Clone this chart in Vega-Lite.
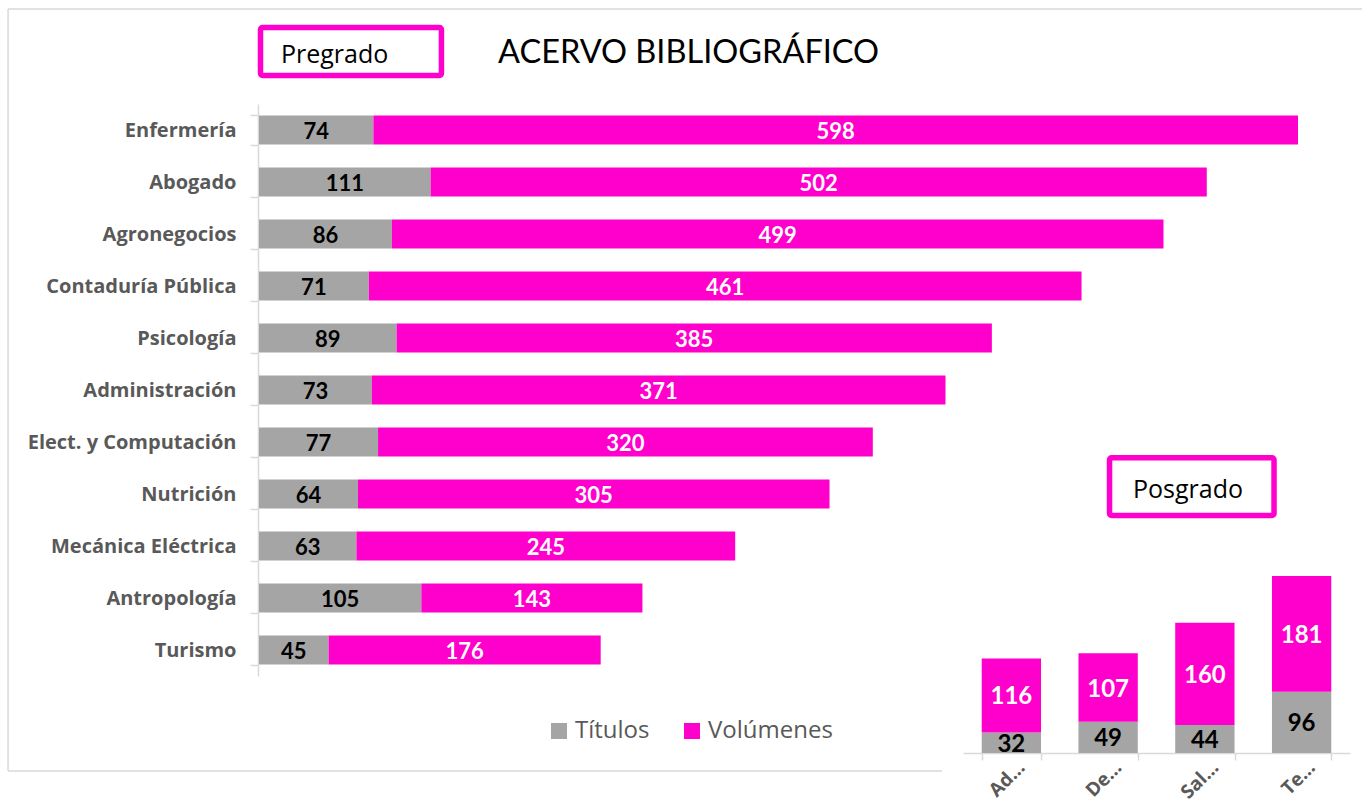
{
  "$schema": "https://vega.github.io/schema/vega-lite/v6.json",
  "width": 1362,
  "height": 804,
  "autosize": "none",
  "padding": 0,
  "background": "#ffffff",
  "config": {
    "view": {"stroke": null},
    "font": "Lato"
  },
  "datasets": {
    "pregrado": [
      {"carrera": "Enfermería", "tipo": "Títulos", "valor": 74},
      {"carrera": "Enfermería", "tipo": "Volúmenes", "valor": 598},
      {"carrera": "Abogado", "tipo": "Títulos", "valor": 111},
      {"carrera": "Abogado", "tipo": "Volúmenes", "valor": 502},
      {"carrera": "Agronegocios", "tipo": "Títulos", "valor": 86},
      {"carrera": "Agronegocios", "tipo": "Volúmenes", "valor": 499},
      {"carrera": "Contaduría Pública", "tipo": "Títulos", "valor": 71},
      {"carrera": "Contaduría Pública", "tipo": "Volúmenes", "valor": 461},
      {"carrera": "Psicología", "tipo": "Títulos", "valor": 89},
      {"carrera": "Psicología", "tipo": "Volúmenes", "valor": 385},
      {"carrera": "Administración", "tipo": "Títulos", "valor": 73},
      {"carrera": "Administración", "tipo": "Volúmenes", "valor": 371},
      {"carrera": "Elect. y Computación", "tipo": "Títulos", "valor": 77},
      {"carrera": "Elect. y Computación", "tipo": "Volúmenes", "valor": 320},
      {"carrera": "Nutrición", "tipo": "Títulos", "valor": 64},
      {"carrera": "Nutrición", "tipo": "Volúmenes", "valor": 305},
      {"carrera": "Mecánica Eléctrica", "tipo": "Títulos", "valor": 63},
      {"carrera": "Mecánica Eléctrica", "tipo": "Volúmenes", "valor": 245},
      {"carrera": "Antropología", "tipo": "Títulos", "valor": 105},
      {"carrera": "Antropología", "tipo": "Volúmenes", "valor": 143},
      {"carrera": "Turismo", "tipo": "Títulos", "valor": 45},
      {"carrera": "Turismo", "tipo": "Volúmenes", "valor": 176}
    ],
    "posgrado": [
      {"programa": "Ad…", "tipo": "Títulos", "valor": 32},
      {"programa": "Ad…", "tipo": "Volúmenes", "valor": 116},
      {"programa": "De…", "tipo": "Títulos", "valor": 49},
      {"programa": "De…", "tipo": "Volúmenes", "valor": 107},
      {"programa": "Sal…", "tipo": "Títulos", "valor": 44},
      {"programa": "Sal…", "tipo": "Volúmenes", "valor": 160},
      {"programa": "Te…", "tipo": "Títulos", "valor": 96},
      {"programa": "Te…", "tipo": "Volúmenes", "valor": 181}
    ],
    "marco": [
      {"x0": -162.3, "x1": 718.6, "y0": 1164.3, "y1": 1164.3},
      {"x0": -162.3, "x1": -162.3, "y0": 1164.3, "y1": -28.2},
      {"x0": -162.3, "x1": 441.7, "y0": -28.2, "y1": -28.2}
    ],
    "cajas": [
      {"nombre": "Pregrado", "x0": 0.97, "x1": 118.0, "y0": 1060.3, "y1": 1135.4, "tx": 14.2, "ty": 1080.6},
      {"nombre": "Posgrado", "x0": 550.1, "x1": 656.5, "y0": 371.7, "y1": 462.0, "tx": 565.3, "ty": 398.6}
    ],
    "titulo": [
      {"texto": "ACERVO BIBLIOGRÁFICO", "tx": 154.6, "ty": 1079.4}
    ]
  },
  "layer": [
    {
      "layer": [
        {
          "data": {"name": "marco"},
          "mark": {"type": "rule", "stroke": "#d9d9d9", "strokeWidth": 1.5},
          "encoding": {
            "x": {"field": "x0", "type": "quantitative", "scale": {"domain": [0, 672], "range": [259, 1298]}, "axis": null},
            "x2": {"field": "x1"},
            "y": {"field": "y0", "type": "quantitative", "scale": {"domain": [0, 277], "range": [753, 576]}, "axis": null},
            "y2": {"field": "y1"}
          }
        },
        {
          "data": {"name": "cajas"},
          "mark": {"type": "rect", "fill": "#ffffff", "stroke": "#ff00cc", "strokeWidth": 5.5, "cornerRadius": 2},
          "encoding": {
            "x": {"field": "x0", "type": "quantitative", "scale": {"domain": [0, 672], "range": [259, 1298]}, "axis": null},
            "x2": {"field": "x1"},
            "y": {"field": "y0", "type": "quantitative", "scale": {"domain": [0, 277], "range": [753, 576]}, "axis": null},
            "y2": {"field": "y1"}
          }
        },
        {
          "data": {"name": "cajas"},
          "mark": {"type": "text", "align": "left", "baseline": "alphabetic", "fontSize": 25, "font": "Open Sans", "color": "#000000"},
          "encoding": {
            "x": {"field": "tx", "type": "quantitative", "scale": {"domain": [0, 672], "range": [259, 1298]}, "axis": null},
            "y": {"field": "ty", "type": "quantitative", "scale": {"domain": [0, 277], "range": [753, 576]}, "axis": null},
            "text": {"field": "nombre"}
          }
        },
        {
          "data": {"name": "titulo"},
          "mark": {"type": "text", "align": "left", "baseline": "alphabetic", "fontSize": 32.5, "font": "Lato", "color": "#000000"},
          "encoding": {
            "x": {"field": "tx", "type": "quantitative", "scale": {"domain": [0, 672], "range": [259, 1298]}, "axis": null},
            "y": {"field": "ty", "type": "quantitative", "scale": {"domain": [0, 277], "range": [753, 576]}, "axis": null},
            "text": {"field": "texto"}
          }
        }
      ]
    },
    {
      "data": {"name": "pregrado"},
      "encoding": {
        "y": {
          "field": "carrera", "type": "nominal", "sort": null,
          "scale": {"range": [104, 676], "paddingInner": 0.44, "paddingOuter": 0.22},
          "axis": {
            "orient": "left", "offset": -258, "title": null,
            "domainColor": "#d9d9d9", "domainWidth": 1.5,
            "tickColor": "#d9d9d9", "tickWidth": 1.5, "tickSize": 8, "tickBand": "extent",
            "labelFont": "Open Sans", "labelFontSize": 20, "labelFontWeight": "bold", "labelColor": "#595959",
            "labelPadding": 14, "labelLimit": 300, "grid": false
          }
        },
        "x": {
          "field": "valor", "type": "quantitative", "stack": "zero",
          "scale": {"domain": [0, 672], "range": [259, 1298]}, "axis": null
        },
        "order": {"field": "tipo", "sort": "ascending"}
      },
      "layer": [
        {
          "mark": {"type": "bar"},
          "encoding": {
            "color": {
              "field": "tipo", "type": "nominal",
              "scale": {"domain": ["Títulos", "Volúmenes"], "range": ["#a5a5a5", "#ff00cc"]},
              "legend": {
                "orient": "none", "legendX": 547, "legendY": 719, "direction": "horizontal",
                "title": null, "symbolType": "square", "symbolSize": 256, "symbolStrokeWidth": 0,
                "labelFont": "Open Sans", "labelFontSize": 24, "labelColor": "#595959",
                "columnPadding": 30, "labelOffset": 4, "padding": 0
              }
            }
          }
        },
        {
          "mark": {"type": "text", "fontSize": 22, "fontWeight": "bold", "font": "Lato", "baseline": "middle", "align": "center", "dy": 2},
          "encoding": {
            "x": {"field": "valor", "type": "quantitative", "stack": "zero", "bandPosition": 0.5},
            "detail": {"field": "tipo"},
            "text": {"field": "valor", "type": "quantitative"},
            "color": {"condition": {"test": "datum.tipo === 'Títulos'", "value": "#000000"}, "value": "#ffffff"}
          }
        }
      ]
    },
    {
      "data": {"name": "posgrado"},
      "encoding": {
        "x": {
          "field": "programa", "type": "nominal", "sort": null,
          "scale": {"range": [963, 1350], "paddingInner": 0.387, "paddingOuter": 0.1935},
          "axis": {
            "orient": "bottom", "offset": -51, "title": null,
            "domainColor": "#d9d9d9", "domainWidth": 1.5,
            "tickColor": "#d9d9d9", "tickWidth": 1.5, "tickSize": 7, "tickBand": "extent",
            "labelFont": "Open Sans", "labelFontSize": 19, "labelFontWeight": "bold", "labelColor": "#595959",
            "labelAngle": -45, "labelAlign": "right", "labelBaseline": "middle", "labelPadding": 4, "labelOffset": 10, "grid": false
          }
        },
        "y": {
          "field": "valor", "type": "quantitative", "stack": "zero",
          "scale": {"domain": [0, 277], "range": [753, 576]}, "axis": null
        },
        "order": {"field": "tipo", "sort": "ascending"}
      },
      "layer": [
        {
          "mark": {"type": "bar"},
          "encoding": {
            "color": {
              "field": "tipo", "type": "nominal",
              "scale": {"domain": ["Títulos", "Volúmenes"], "range": ["#a5a5a5", "#ff00cc"]}
            }
          }
        },
        {
          "mark": {"type": "text", "fontSize": 24, "fontWeight": "bold", "font": "Lato", "baseline": "middle", "align": "center", "dy": 2},
          "encoding": {
            "y": {"field": "valor", "type": "quantitative", "stack": "zero", "bandPosition": 0.5},
            "detail": {"field": "tipo"},
            "text": {"field": "valor", "type": "quantitative"},
            "color": {"condition": {"test": "datum.tipo === 'Títulos'", "value": "#000000"}, "value": "#ffffff"}
          }
        }
      ]
    }
  ],
  "resolve": {"scale": {"x": "independent", "y": "independent"}}
}
